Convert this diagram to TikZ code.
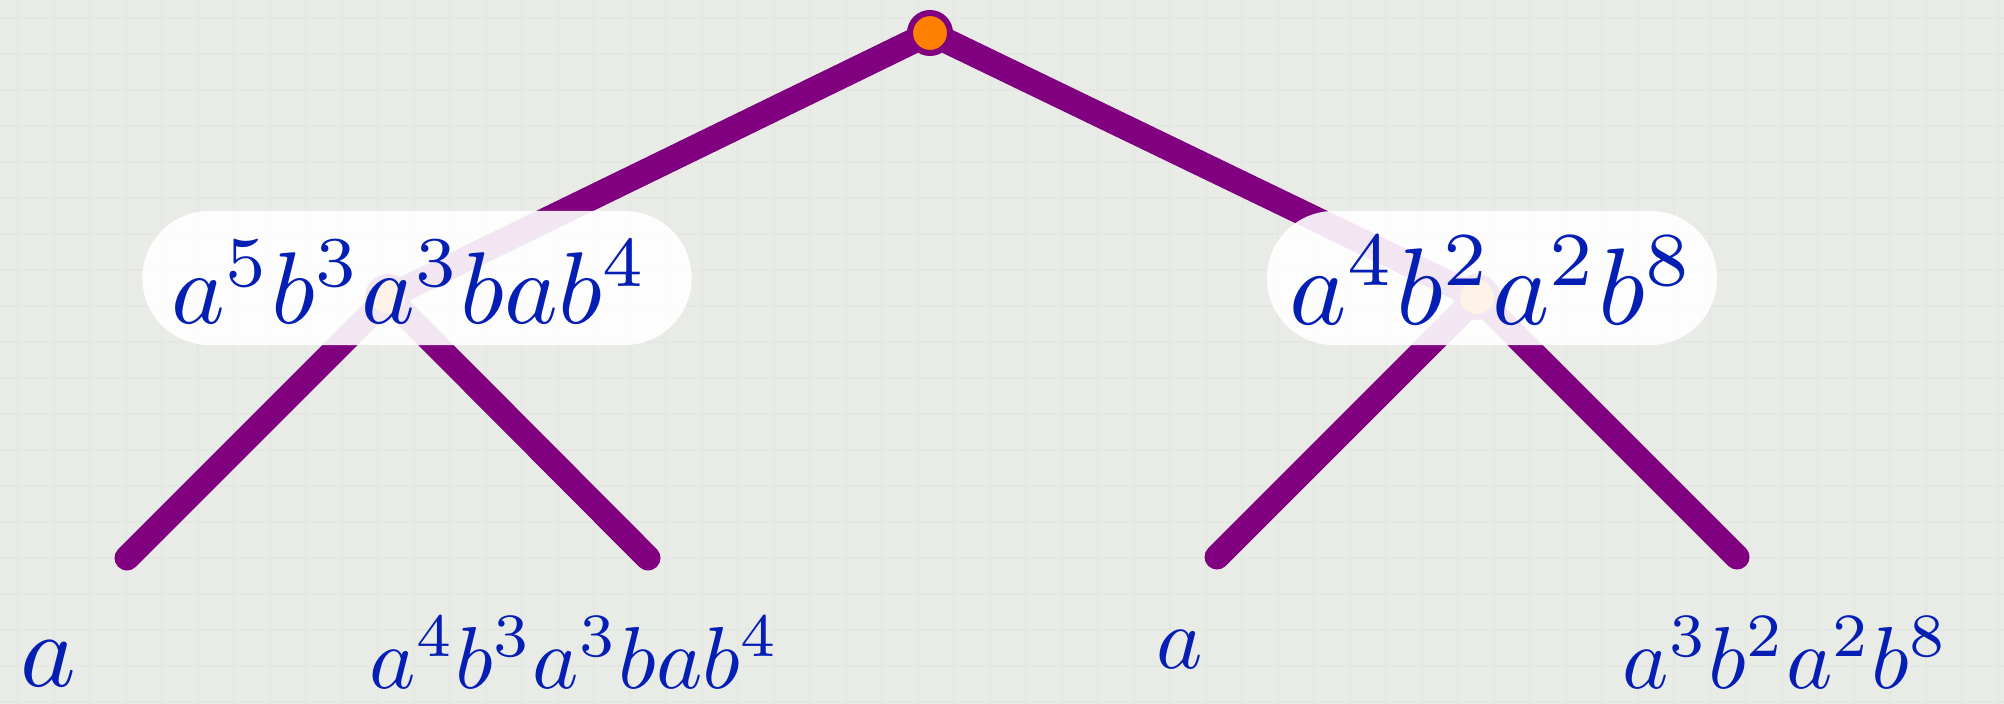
\documentclass[tikz,border=0pt]{standalone}
\usetikzlibrary{backgrounds}

\definecolor{paper}{RGB}{233,235,231}
\definecolor{gridln}{RGB}{228,231,226}
\definecolor{stemc}{RGB}{128,0,128}
\definecolor{knotc}{RGB}{255,128,0}
\definecolor{ink}{RGB}{5,30,180}

\begin{document}
\begin{tikzpicture}[
  x=0.01cm,
  y=-0.01cm,
  stem/.style={draw=stemc, line width=0.25cm, line cap=round},
  knot/.style={circle, draw=stemc, fill=knotc, line width=0.06cm, minimum size=0.40cm, inner sep=0pt},
  oval/.style={rectangle, rounded corners=0.67cm, fill=white, fill opacity=0.9, minimum height=1.34cm, inner sep=0pt},
  word/.style={text=ink, anchor=base, inner sep=0pt, scale=3.1},
  leafword/.style={word, scale=2.5/3.1}
]

\useasboundingbox (0,0) rectangle (2004,704);

% Paper background
\begin{pgfonlayer}{background}
\fill[paper] (0,0) rectangle (2004,704);
\foreach \x in {18,54,...,2004} {
  \draw[gridln, line width=0.6pt] (\x,0) -- (\x,704);
}
\foreach \y in {18,54,...,704} {
  \draw[gridln, line width=0.6pt] (0,\y) -- (2004,\y);
}
\end{pgfonlayer}

% Knots
\node[knot] (root) at (930,33) {};
\node[knot] (lknot) at (388,297) {};
\node[knot] (rknot) at (1477,297) {};

% Leaf ends
\coordinate (leafa) at (127,558);
\coordinate (leafb) at (648,558);
\coordinate (leafc) at (1217,557);
\coordinate (leafd) at (1737,557);

% Branches
\begin{pgfonlayer}{background}
\draw[stem] (root.center) -- (lknot.center);
\draw[stem] (root.center) -- (rknot.center);
\draw[stem] (lknot.center) -- (leafa);
\draw[stem] (lknot.center) -- (leafb);
\draw[stem] (rknot.center) -- (leafc);
\draw[stem] (rknot.center) -- (leafd);
\end{pgfonlayer}

% Ovals
\node[oval, minimum width=5.49cm] (loval) at (417,278) {};
\node[oval, minimum width=4.50cm] (roval) at (1492,278) {};

% Words
\node[word, scale=2.9/3.1] (lword) at (410,324) {$a^5b^3a^3bab^4$};
\node[word] (rword) at (1492,325) {$a^4b^2a^2b^8$};

\node[word, scale=3.0/3.1] (worda) at (48,686) {$a$};
\node[leafword] (wordb) at (575,688) {$a^4b^3a^3bab^4$};
\node[leafword] (wordc) at (1180,668) {$a$};
\node[leafword] (wordd) at (1786,688) {$a^3b^2a^2b^8$};

\end{tikzpicture}
\end{document}
